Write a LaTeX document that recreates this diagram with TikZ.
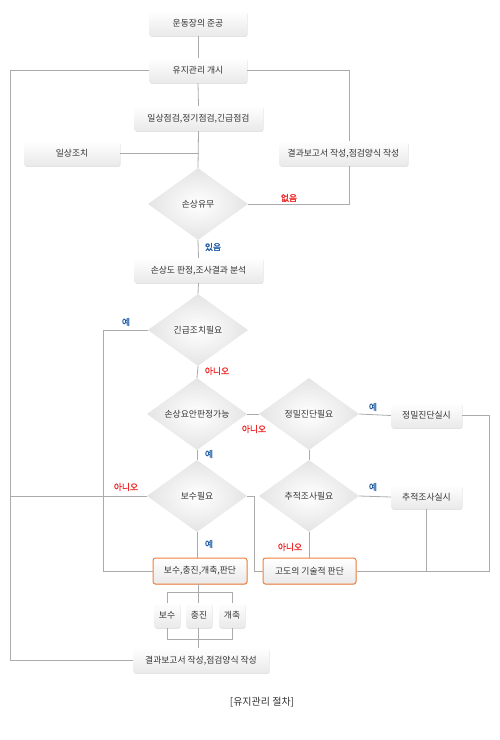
\documentclass[tikz,border=0pt]{standalone}
\usepackage{fontspec}
\setmainfont{Noto Sans CJK KR}
\newfontfamily\lblfont[FakeBold=1.5]{Noto Sans CJK KR}
\usetikzlibrary{shapes.geometric,shadows,calc}
\definecolor{txt}{HTML}{333333}
\definecolor{lnc}{HTML}{ABABAB}
\definecolor{yesc}{HTML}{1F5FA6}
\definecolor{noc}{HTML}{F02828}
\definecolor{org}{HTML}{F08040}
\definecolor{boxbot}{HTML}{E9E9E9}
\definecolor{dia}{HTML}{E4E4E4}
\tikzset{
  box/.style={rectangle, rounded corners=2.5pt, top color=white, bottom color=boxbot,
    draw=none, minimum height=25pt, inner sep=0pt, text=txt,
    font=\fontsize{8.8}{10}\selectfont,
    drop shadow={opacity=0.22, shadow xshift=0.6pt, shadow yshift=-0.9pt}},
  obox/.style={box, draw=org, line width=1pt, minimum height=26pt},
  dec/.style={diamond, aspect=1.389, minimum width=100pt, minimum height=72pt,
    inner sep=0pt, inner color=white, outer color=dia, draw=none, text=txt,
    font=\fontsize{8.8}{10}\selectfont},
  ln/.style={draw=lnc, line width=0.8pt},
  yes/.style={text=yesc, font=\lblfont\fontsize{8.8}{10}\selectfont, inner sep=0pt},
  no/.style={text=noc, font=\lblfont\fontsize{8.8}{10}\selectfont, inner sep=0pt},
}
\begin{document}
\begin{tikzpicture}[x=1pt,y=-1pt]
\useasboundingbox[fill=white] (0,0) rectangle (500,740);

% coordinates for free routing
\coordinate (L) at (10,70.5);
\coordinate (R1) at (349,70.5);
\coordinate (YL) at (103.5,330);
\coordinate (NR) at (254,496);
\coordinate (XR) at (489,415.5);

% nodes
\node[box, minimum width=98pt] (n1) at (198,23.5) {운동장의 준공};
\node[box, minimum width=98pt] (n2) at (198,70.5) {유지관리 개시};
\node[box, minimum width=129pt] (n3) at (198.5,118.5) {일상점검,정기점검,긴급점검};
\node[box, minimum width=96pt] (act) at (72,153.5) {일상조치};
\node[box, minimum width=129pt] (rep1) at (343.5,153.5) {결과보고서 작성,점검양식 작성};
\node[dec] (d1) at (198,204) {손상유무};
\node[box, minimum width=129pt] (n4) at (198.5,270.5) {손상도 판정,조사결과 분석};
\node[dec] (d2) at (198,330) {긴급조치필요};
\node[dec] (d3) at (197,414) {손상요안판정가능};
\node[dec] (d4) at (309,414) {정밀진단필요};
\node[box, minimum width=71pt] (x1) at (426.5,415.5) {정밀진단실시};
\node[dec] (d6) at (197,496) {보수필요};
\node[dec] (d5) at (309,496) {추적조사필요};
\node[box, minimum width=71pt, minimum height=24pt] (x2) at (426.5,497) {추적조사실시};
\node[obox, minimum width=94pt] (j1) at (200,571) {보수,충진,개축,판단};
\node[obox, minimum width=93pt] (j2) at (309.5,571) {고도의 기술적 판단};

% connectors
\draw[ln] (n1.south) -- (n2.north);
\draw[ln] (n2.south) -- (n3.north);
\draw[ln] (n3.south) -- (d1.north);
\draw[ln] (act.east) -- (act.east -| n3.south);
\draw[ln] (n2.east) -- (R1) -- (R1 |- rep1.north);
\draw[ln] (R1 |- rep1.south) |- (d1.east);
\draw[ln] (d1.south) -- (n4.north);
\draw[ln] (n4.south) -- (d2.north);
\draw[ln] (d2.west) -- (YL) |- (j1.west);
\draw[ln] (d2.south) -- (d3.north);
\draw[ln] (d3.east) -- (d4.west);
\draw[ln] (d4.east) -- (x1.west);
\draw[ln] (x1.east) -- (XR) |- (j2.east);
\draw[ln] (d4.south) -- (d5.north);
\draw[ln] (d5.east) -- (x2.west);
\draw[ln] (x2.south) -- (x2.south |- j2.east);
\draw[ln] (d3.south) -- (d6.north);
\draw[ln] (d6.west) -- (d6.west -| L);
\draw[ln] (d6.east) -- (NR) |- (j2.west);
\draw[ln] (d6.south) -- (d6.south |- j1.north);
\draw[ln] (d5.south) -- (d5.south |- j2.north);

% labels
\node[no] (l1) at (289,198) {없음};
\node[yes] (l2) at (213,247) {있음};
\node[yes] (l3) at (126,322) {예};
\node[no] (l4) at (217,371) {아니오};
\node[no] (l5) at (254,429) {아니오};
\node[yes] (l6) at (373,407) {예};
\node[yes] (l7) at (209,454) {예};
\node[no] (l8) at (126,487) {아니오};
\node[yes] (l9) at (373,487) {예};
\node[yes] (l10) at (209,544) {예};
\node[no] (l11) at (290,547) {아니오};

% lower part
\coordinate (jc) at (198,584);
\draw[ln] (jc) -- (198,648);
\node[box, minimum width=26pt] (s1) at (167,615.5) {보수};
\node[box, minimum width=26pt] (s2) at (199,615.5) {충진};
\node[box, minimum width=26pt] (s3) at (232,615.5) {개축};
\draw[ln] (s1.north) -- ++(0,-10) -| (s3.north);
\draw[ln] (s1.south) -- ++(0,11) -| (s3.south);
\node[box, minimum width=136pt] (rep2) at (201,660.5) {결과보고서 작성,점검양식 작성};
\draw[ln] (n2.west) -- (L) |- (rep2.west);

\node[text=txt, font=\fontsize{10}{12}\selectfont] (cap) at (262,702) {[유지관리 절차]};
\end{tikzpicture}
\end{document}
